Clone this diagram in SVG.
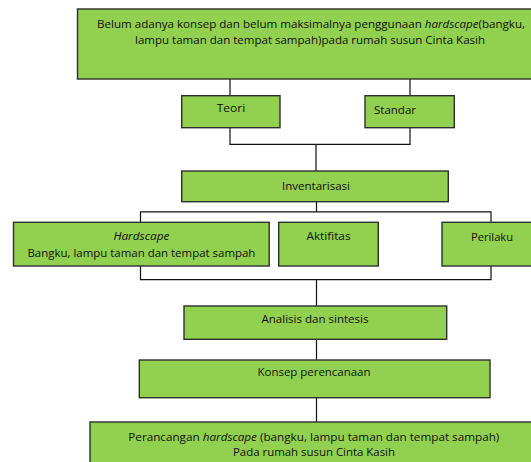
<svg xmlns="http://www.w3.org/2000/svg" width="531" height="462" viewBox="0 0 531 462">
<style>
.box{fill:#92D050;stroke:#2f2f2f;stroke-width:1.4}
.t{font-family:"Open Sans","Noto Sans","Liberation Sans",sans-serif;font-size:11px;fill:#111;text-anchor:middle}
.i{font-style:italic}
.c{fill:none;stroke:#111;stroke-width:1.2}
</style>
<rect width="531" height="462" fill="#fff"/>
<g id="connectors">
<path class="c" d="M230 79V96M410 79V96"/>
<path class="c" d="M230 128V144.3H410V128M316 144.3V171"/>
<path class="c" d="M316.5 202V211.9M140.5 222V211.9H491V222"/>
<path class="c" d="M140.5 266V279.6H491V266M316.5 279.6V306"/>
<path class="c" d="M316.5 339.5V360M316.5 398V422"/>
</g>
<g id="n1">
<rect class="box" x="77.5" y="9" width="460" height="70"/>
<text class="t" x="311" y="27.5" textLength="428" lengthAdjust="spacingAndGlyphs">Belum adanya konsep dan belum maksimalnya penggunaan <tspan class="i">hardscape</tspan>(bangku,</text>
<text class="t" x="310" y="44" textLength="350" lengthAdjust="spacingAndGlyphs">lampu taman dan tempat sampah)pada rumah susun Cinta Kasih</text>
</g>
<g id="n2">
<rect class="box" x="181.7" y="95.7" width="98.3" height="32"/>
<text class="t" x="231" y="112" textLength="28.5" lengthAdjust="spacingAndGlyphs">Teori</text>
</g>
<g id="n3">
<rect class="box" x="365" y="95.7" width="89.3" height="32"/>
<text class="t" x="395" y="114" textLength="42" lengthAdjust="spacingAndGlyphs">Standar</text>
</g>
<g id="n4">
<rect class="box" x="181.7" y="171" width="266.6" height="30.7"/>
<text class="t" x="316" y="189.5" textLength="68" lengthAdjust="spacingAndGlyphs">Inventarisasi</text>
</g>
<g id="n5">
<rect class="box" x="13.5" y="222.3" width="255.7" height="43.7"/>
<text class="t i" x="141.4" y="239.5" textLength="56" lengthAdjust="spacingAndGlyphs">Hardscape</text>
<text class="t" x="141.4" y="256.5" textLength="228" lengthAdjust="spacingAndGlyphs">Bangku, lampu taman dan tempat sampah</text>
</g>
<g id="n6">
<rect class="box" x="278.7" y="222.3" width="99.6" height="43.7"/>
<text class="t" x="328.5" y="239.5" textLength="44" lengthAdjust="spacingAndGlyphs">Aktifitas</text>
</g>
<g id="n7">
<rect class="box" x="442" y="222.3" width="100" height="43.7"/>
<text class="t" x="492" y="240.5" textLength="42" lengthAdjust="spacingAndGlyphs">Perilaku</text>
</g>
<g id="n8">
<rect class="box" x="184" y="306" width="262.7" height="33.3"/>
<text class="t" x="315" y="323" textLength="107" lengthAdjust="spacingAndGlyphs">Analisis dan sintesis</text>
</g>
<g id="n9">
<rect class="box" x="139.3" y="360" width="350.7" height="37.7"/>
<text class="t" x="314" y="375.7" textLength="113" lengthAdjust="spacingAndGlyphs">Konsep perencanaan</text>
</g>
<g id="n10">
<rect class="box" x="90" y="422" width="448" height="50"/>
<text class="t" x="313.8" y="440.7" textLength="371" lengthAdjust="spacingAndGlyphs">Perancangan <tspan class="i">hardscape</tspan> (bangku,  lampu taman dan tempat sampah)</text>
<text class="t" x="314" y="456.3" textLength="162" lengthAdjust="spacingAndGlyphs">Pada rumah susun Cinta Kasih</text>
</g>
</svg>
